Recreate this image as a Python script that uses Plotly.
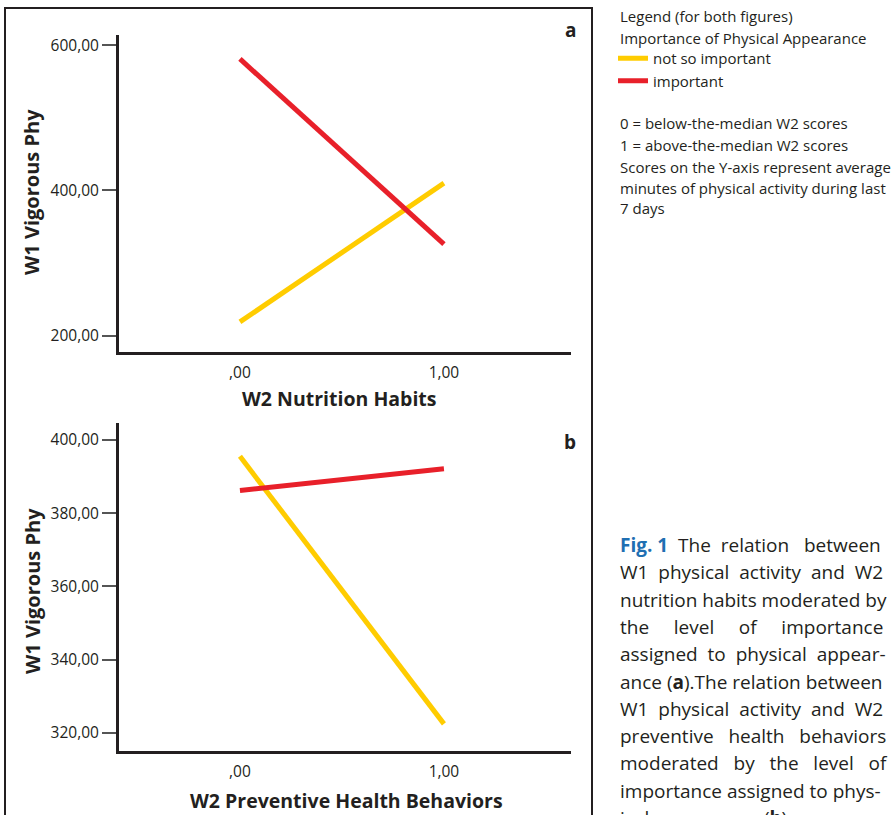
import plotly.graph_objects as go

# ---------------------------------------------------------------
# data
x_levels = [0, 1]
x_ticktext = [",00", "1,00"]

nutrition_not_so = [219, 410]
nutrition_important = [581, 326]

preventive_not_so = [395.5, 322.5]
preventive_important = [386.2, 392.1]

ya_ticks = [200, 400, 600]
ya_ticktext = ["200,00", "400,00", "600,00"]
yb_ticks = [320, 340, 360, 380, 400]
yb_ticktext = ["320,00", "340,00", "360,00", "380,00", "400,00"]

YELLOW = "#FFCC00"
RED = "#E8202A"
INK = "#231F20"
BLUE = "#1F6FB2"
FONT = "Open Sans"

W, H = 895, 815


def px(x):
    return x / W


def py(y):
    return 1 - y / H


# ---------------------------------------------------------------
fig = go.Figure()

fig.add_trace(go.Scatter(x=x_levels, y=nutrition_not_so, mode="lines", name="not so important",
                         line=dict(color=YELLOW, width=5), xaxis="x", yaxis="y", legendgroup="n"))
fig.add_trace(go.Scatter(x=x_levels, y=nutrition_important, mode="lines", name="important",
                         line=dict(color=RED, width=5), xaxis="x", yaxis="y", legendgroup="i"))
fig.add_trace(go.Scatter(x=x_levels, y=preventive_not_so, mode="lines", name="not so important",
                         line=dict(color=YELLOW, width=5), xaxis="x2", yaxis="y2",
                         legendgroup="n", showlegend=False))
fig.add_trace(go.Scatter(x=x_levels, y=preventive_important, mode="lines", name="important",
                         line=dict(color=RED, width=5), xaxis="x2", yaxis="y2",
                         legendgroup="i", showlegend=False))

xaxis_common = dict(
    range=[-0.593, 1.623], tickvals=x_levels, ticktext=x_ticktext,
    showline=True, linewidth=3, linecolor=INK, showgrid=False, zeroline=False,
    ticks="outside", ticklen=4, tickcolor="rgba(0,0,0,0)",
    tickfont=dict(size=15.5, color=INK, family=FONT), fixedrange=True,
)
yaxis_common = dict(
    showline=True, linewidth=3, linecolor=INK, showgrid=False, zeroline=False,
    ticks="outside", ticklen=14, tickwidth=1.5, tickcolor="#555555",
    tickfont=dict(size=15.5, color=INK, family=FONT), fixedrange=True,
)

fig.update_layout(
    width=W, height=H,
    margin=dict(l=0, r=0, t=0, b=0),
    paper_bgcolor="white", plot_bgcolor="white",
    font=dict(family=FONT, color=INK),
    xaxis=dict(domain=[px(119), px(571)], anchor="y", **xaxis_common),
    yaxis=dict(domain=[py(352), py(35)], anchor="x", range=[177.6, 614],
               tickvals=ya_ticks, ticktext=ya_ticktext, **yaxis_common),
    xaxis2=dict(domain=[px(119), px(571)], anchor="y2", **xaxis_common),
    yaxis2=dict(domain=[py(751), py(423)], anchor="x2", range=[315.1, 404.6],
                tickvals=yb_ticks, ticktext=yb_ticktext, **yaxis_common),
    showlegend=True,
    legend=dict(x=px(613), y=py(42), xanchor="left", yanchor="top",
                font=dict(size=15, color=INK, family=FONT),
                bgcolor="rgba(0,0,0,0)", borderwidth=0, tracegroupgap=0,
                itemwidth=30),
)

# panel frame
fig.add_shape(type="rect", xref="paper", yref="paper",
              x0=px(5), x1=px(592), y0=py(830), y1=py(8),
              line=dict(color=INK, width=2))

annotations = []


def note(text, x, y, size=14, bold=False, angle=0, xanchor="center", color=INK):
    if bold:
        text = "<b>" + text + "</b>"
    annotations.append(dict(text=text, x=px(x), y=py(y), xref="paper", yref="paper",
                            xanchor=xanchor, yanchor="middle", showarrow=False,
                            textangle=angle, font=dict(size=size, color=color, family=FONT)))


# axis titles and panel letters
note("W2 Nutrition Habits", 339, 398, size=19.5, bold=True)
note("W2 Preventive Health Behaviors", 346, 800, size=19.5, bold=True)
note("W1 Vigorous Phy", 32, 192, size=20, bold=True, angle=-90)
note("W1 Vigorous Phy", 32, 591, size=20, bold=True, angle=-90)
note("a", 570, 30, size=19, bold=True)
note("b", 570, 442, size=19, bold=True)

# legend text block
note("Legend (for both figures)", 618, 16, size=15, xanchor="left")
note("Importance of Physical Appearance", 618, 38, size=15, xanchor="left")
note("0 = below-the-median W2 scores", 618, 123, size=15, xanchor="left")
note("1 = above-the-median W2 scores", 618, 145, size=15, xanchor="left")
note("Scores on the Y-axis represent average", 618, 167, size=15, xanchor="left")
note("minutes of physical activity during last", 618, 188, size=15, xanchor="left")
note("7 days", 618, 208, size=15, xanchor="left")

# caption (extra spaces imitate the justified setting)
caption_lines = [
    "<b><span style='color:%s'>Fig. 1</span></b>  The  relation   between" % BLUE,
    "W1  physical  activity  and  W2",
    "nutrition habits moderated by",
    "the     level     of     importance",
    "assigned  to  physical  appear-",
    "ance (<b>a</b>).The relation between",
    "W1  physical  activity  and  W2",
    "preventive   health   behaviors",
    "moderated   by   the   level   of",
    "importance assigned to phys-",
    "ical appearance (<b>b</b>).",
]
for i, line in enumerate(caption_lines):
    note(line, 618, 545 + i * 27.3, size=19, xanchor="left")

fig.update_layout(annotations=annotations)

fig.write_html("out.html", config={"displayModeBar": False},
               post_script="document.body.style.margin='0';")
